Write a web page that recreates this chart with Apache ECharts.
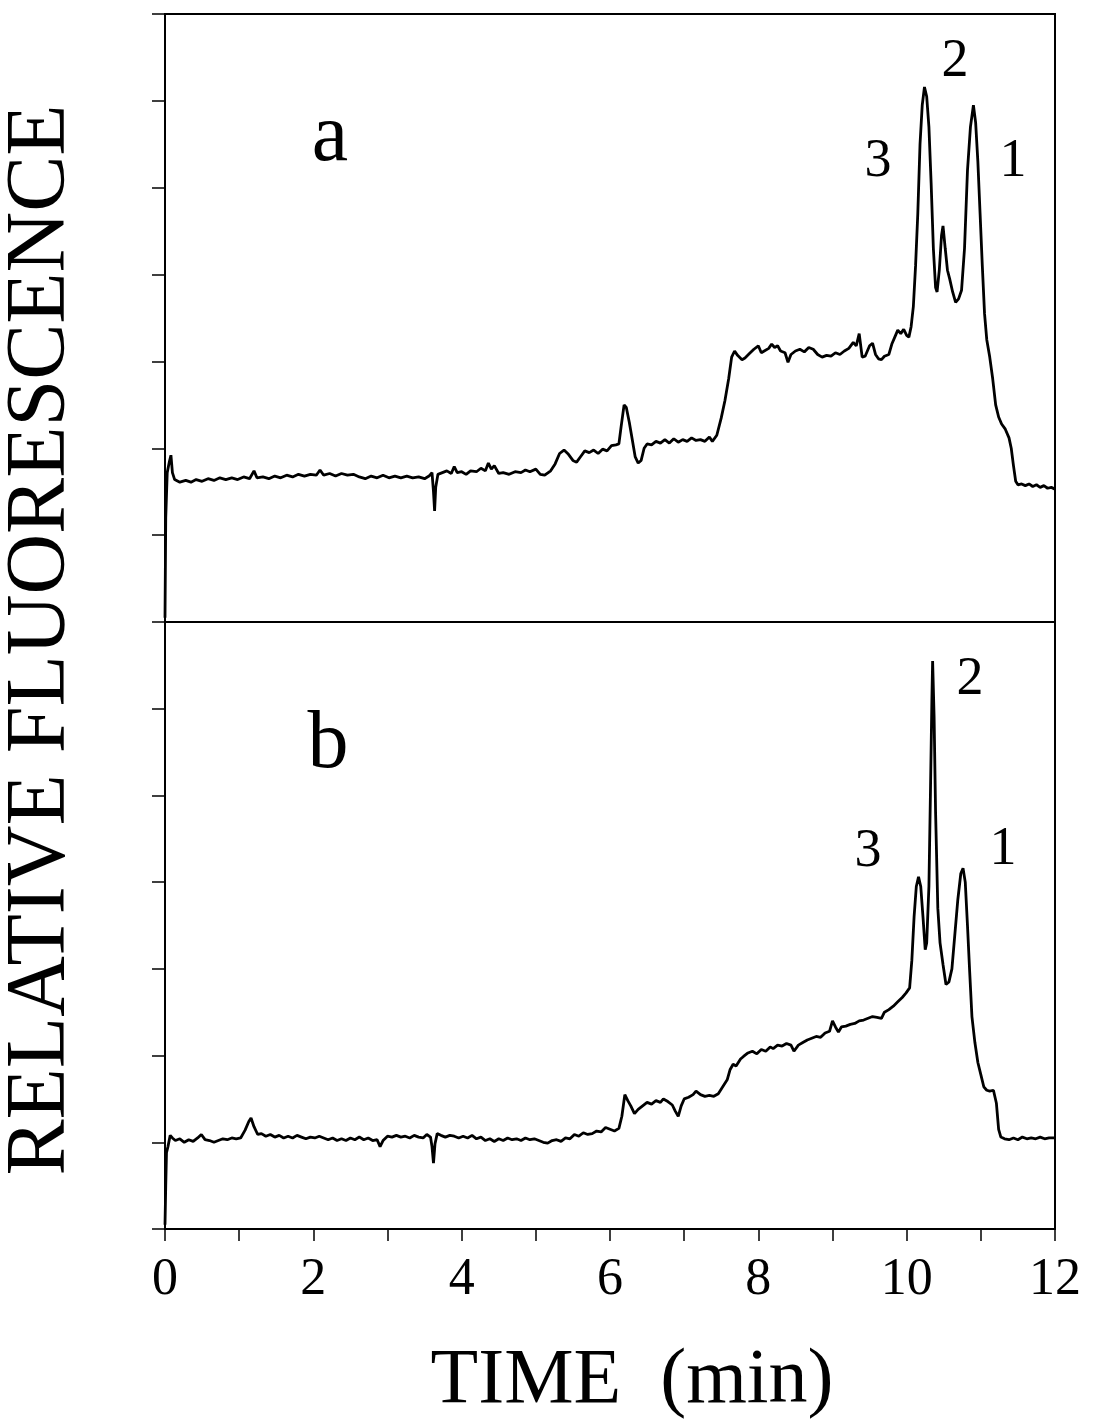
<!DOCTYPE html>
<html>
<head>
<meta charset="utf-8">
<script src="https://cdn.jsdelivr.net/npm/echarts@6/dist/echarts.min.js"></script>
<style>
html,body{margin:0;padding:0;background:#fff;}
#chart{width:1093px;height:1420px;}
</style>
</head>
<body>
<div id="chart"></div>
<script>
// ---------- DATA ----------
const xTicks = [0, 2, 4, 6, 8, 10, 12];
const xTitle = 'TIME  (min)';
const yTitle = 'RELATIVE FLUORESCENCE';
const panelLabels = ['a', 'b'];
const peakLabels = ['3', '2', '1'];

// Trace a (top panel): time (min), relative fluorescence (tick units)
const traceA_t = [0.00,0.01,0.03,0.06,0.08,0.10,0.13,0.20,0.28,0.35,0.42,0.50,0.58,0.66,0.74,0.82,0.90,0.98,1.06,1.14,1.20,1.24,1.32,1.40,1.48,1.56,1.64,1.72,1.80,1.88,1.96,2.04,2.09,2.14,2.22,2.30,2.38,2.46,2.54,2.62,2.70,2.78,2.86,2.94,3.02,3.10,3.18,3.26,3.34,3.42,3.50,3.56,3.60,3.62,3.635,3.65,3.68,3.74,3.80,3.86,3.90,3.94,4.00,4.06,4.12,4.20,4.26,4.32,4.36,4.40,4.44,4.50,4.56,4.64,4.72,4.80,4.86,4.92,5.00,5.06,5.12,5.20,5.26,5.32,5.38,5.44,5.50,5.55,5.60,5.66,5.72,5.78,5.84,5.90,5.96,6.02,6.08,6.12,6.15,6.19,6.22,6.26,6.30,6.34,6.38,6.42,6.46,6.50,6.56,6.62,6.68,6.74,6.80,6.86,6.92,6.98,7.04,7.10,7.16,7.22,7.28,7.34,7.38,7.44,7.50,7.55,7.60,7.64,7.68,7.72,7.78,7.82,7.88,7.94,8.00,8.04,8.08,8.14,8.18,8.22,8.26,8.30,8.36,8.40,8.44,8.50,8.56,8.62,8.68,8.74,8.80,8.86,8.92,8.98,9.04,9.10,9.16,9.22,9.28,9.32,9.36,9.40,9.44,9.50,9.54,9.58,9.62,9.66,9.70,9.76,9.80,9.84,9.88,9.92,9.96,10.00,10.03,10.06,10.09,10.12,10.15,10.18,10.21,10.24,10.27,10.30,10.33,10.36,10.39,10.41,10.44,10.47,10.49,10.52,10.55,10.58,10.62,10.66,10.70,10.74,10.78,10.82,10.86,10.90,10.93,10.96,10.99,11.02,11.05,11.08,11.12,11.16,11.20,11.24,11.28,11.33,11.38,11.41,11.44,11.47,11.50,11.55,11.60,11.65,11.70,11.75,11.80,11.85,11.90,11.95,12.00];
const traceA_v = [0.05,1.20,1.72,1.85,1.92,1.72,1.64,1.61,1.63,1.61,1.64,1.62,1.65,1.63,1.66,1.64,1.66,1.64,1.67,1.65,1.74,1.66,1.67,1.65,1.68,1.66,1.69,1.67,1.70,1.68,1.70,1.69,1.75,1.69,1.71,1.68,1.71,1.69,1.70,1.67,1.65,1.68,1.66,1.69,1.66,1.68,1.66,1.68,1.66,1.67,1.65,1.68,1.72,1.50,1.28,1.55,1.70,1.72,1.74,1.71,1.79,1.72,1.73,1.70,1.74,1.73,1.77,1.74,1.83,1.76,1.80,1.71,1.72,1.70,1.73,1.72,1.75,1.73,1.76,1.70,1.69,1.74,1.82,1.94,1.98,1.93,1.86,1.84,1.90,1.97,1.95,1.98,1.94,1.99,1.97,2.03,2.04,2.05,2.25,2.50,2.47,2.30,2.10,1.90,1.83,1.86,2.00,2.05,2.04,2.08,2.06,2.10,2.06,2.11,2.07,2.10,2.08,2.12,2.09,2.10,2.08,2.13,2.08,2.15,2.35,2.55,2.80,3.05,3.12,3.07,3.02,3.04,3.09,3.14,3.18,3.10,3.12,3.15,3.20,3.16,3.18,3.12,3.10,2.99,3.08,3.12,3.14,3.11,3.16,3.14,3.08,3.05,3.07,3.06,3.10,3.08,3.12,3.15,3.22,3.18,3.32,3.05,3.06,3.18,3.21,3.08,3.03,3.02,3.06,3.08,3.20,3.28,3.36,3.32,3.37,3.30,3.28,3.40,3.63,4.10,4.70,5.50,5.95,6.16,6.05,5.70,5.05,4.30,3.85,3.80,4.05,4.45,4.56,4.30,4.05,3.95,3.80,3.68,3.72,3.82,4.30,5.20,5.70,5.95,5.75,5.30,4.70,4.10,3.55,3.25,3.05,2.80,2.50,2.36,2.28,2.22,2.12,2.00,1.80,1.62,1.58,1.59,1.57,1.59,1.56,1.58,1.55,1.57,1.54,1.55,1.53];

// Trace b (bottom panel)
const traceB_t = [0.00,0.01,0.02,0.04,0.07,0.10,0.14,0.20,0.26,0.32,0.38,0.44,0.49,0.54,0.60,0.66,0.72,0.78,0.84,0.90,0.96,1.02,1.08,1.13,1.16,1.20,1.25,1.30,1.36,1.42,1.48,1.54,1.60,1.66,1.72,1.78,1.84,1.90,1.96,2.02,2.08,2.14,2.20,2.26,2.32,2.38,2.44,2.50,2.56,2.62,2.68,2.74,2.80,2.86,2.90,2.94,3.00,3.06,3.12,3.18,3.24,3.30,3.36,3.42,3.48,3.53,3.58,3.60,3.62,3.64,3.67,3.72,3.78,3.84,3.90,3.96,4.02,4.08,4.14,4.20,4.26,4.32,4.38,4.44,4.50,4.56,4.62,4.68,4.74,4.80,4.86,4.92,4.98,5.04,5.10,5.16,5.22,5.28,5.34,5.40,5.46,5.52,5.58,5.64,5.70,5.76,5.82,5.88,5.94,6.00,6.06,6.12,6.16,6.20,6.24,6.28,6.33,6.38,6.44,6.50,6.56,6.62,6.68,6.72,6.78,6.84,6.88,6.92,6.96,7.00,7.06,7.12,7.16,7.22,7.28,7.34,7.40,7.46,7.52,7.58,7.62,7.66,7.70,7.76,7.80,7.86,7.92,7.98,8.04,8.10,8.16,8.20,8.26,8.32,8.38,8.44,8.48,8.54,8.60,8.66,8.72,8.78,8.84,8.90,8.96,9.00,9.04,9.08,9.12,9.18,9.24,9.30,9.36,9.42,9.48,9.54,9.60,9.66,9.70,9.76,9.82,9.88,9.94,9.99,10.04,10.07,10.10,10.13,10.16,10.19,10.22,10.25,10.27,10.30,10.32,10.34,10.35,10.37,10.39,10.42,10.45,10.49,10.53,10.57,10.61,10.65,10.69,10.73,10.76,10.79,10.82,10.85,10.88,10.92,10.96,11.00,11.04,11.08,11.12,11.17,11.21,11.24,11.27,11.32,11.38,11.44,11.50,11.56,11.62,11.68,11.74,11.80,11.86,11.92,12.00];
const traceB_v = [0.05,0.50,0.88,0.95,1.08,1.05,1.02,1.04,1.00,1.03,1.01,1.05,1.09,1.03,1.02,1.00,1.02,1.04,1.03,1.05,1.04,1.05,1.14,1.24,1.28,1.18,1.09,1.10,1.07,1.09,1.06,1.08,1.05,1.07,1.05,1.08,1.06,1.04,1.06,1.05,1.07,1.05,1.03,1.05,1.02,1.04,1.02,1.05,1.03,1.06,1.03,1.05,1.02,1.03,0.95,1.02,1.07,1.06,1.08,1.06,1.07,1.05,1.08,1.06,1.05,1.09,1.06,0.95,0.76,0.98,1.10,1.08,1.06,1.08,1.07,1.05,1.07,1.05,1.08,1.04,1.06,1.02,1.04,1.01,1.04,1.02,1.05,1.03,1.04,1.02,1.05,1.03,1.04,1.02,1.00,0.99,1.02,1.03,1.01,1.05,1.04,1.09,1.07,1.11,1.09,1.10,1.13,1.12,1.17,1.15,1.13,1.16,1.30,1.55,1.48,1.42,1.33,1.38,1.42,1.46,1.44,1.48,1.46,1.50,1.47,1.43,1.36,1.30,1.42,1.50,1.52,1.55,1.59,1.55,1.53,1.54,1.53,1.56,1.64,1.72,1.84,1.90,1.88,1.96,1.99,2.03,2.05,2.02,2.07,2.05,2.10,2.08,2.12,2.11,2.14,2.12,2.05,2.12,2.15,2.18,2.20,2.22,2.21,2.26,2.28,2.40,2.33,2.27,2.33,2.34,2.36,2.37,2.40,2.41,2.43,2.45,2.44,2.43,2.50,2.53,2.57,2.62,2.67,2.72,2.78,3.10,3.60,3.95,4.06,3.95,3.60,3.22,3.30,3.95,5.00,6.10,6.55,5.90,4.80,3.70,3.30,3.05,2.82,2.85,3.00,3.40,3.80,4.10,4.16,4.00,3.50,2.96,2.45,2.15,1.92,1.78,1.64,1.60,1.59,1.60,1.45,1.15,1.06,1.04,1.03,1.05,1.03,1.06,1.04,1.05,1.04,1.06,1.04,1.05,1.05];

// ---------- CHART ----------
const zip = (t, v) => t.map((x, i) => [x, v[i]]);
const FONT = "'Liberation Serif','Times New Roman',serif";
const chart = echarts.init(document.getElementById('chart'), null, {renderer: 'canvas'});

const gridCommon = {left: 165, right: 38, show: true, borderColor: '#000', borderWidth: 2, backgroundColor: 'transparent'};
const yCommon = {
  type: 'value', min: 0, max: 7, interval: 1,
  axisLine: {show: true, lineStyle: {color: '#000', width: 2}},
  axisTick: {show: true, inside: false, length: 13, lineStyle: {color: '#000', width: 1.5}},
  axisLabel: {show: false}, splitLine: {show: false}
};

chart.setOption({
  animation: false,
  backgroundColor: '#fff',
  grid: [
    Object.assign({top: 14, height: 608}, gridCommon),
    Object.assign({top: 622, height: 607}, gridCommon)
  ],
  xAxis: [
    {gridIndex: 0, type: 'value', min: 0, max: 12, interval: 1,
     axisLine: {show: true, lineStyle: {color: '#000', width: 2}},
     axisTick: {show: false}, axisLabel: {show: false}, splitLine: {show: false}},
    {gridIndex: 1, type: 'value', min: 0, max: 12, interval: 1,
     axisLine: {show: true, lineStyle: {color: '#000', width: 2}},
     axisTick: {show: true, inside: false, length: 12, lineStyle: {color: '#000', width: 1.5}},
     axisLabel: {show: true, margin: 25, color: '#000', fontFamily: FONT, fontSize: 52,
       formatter: v => (xTicks.indexOf(v) >= 0 ? String(v) : '')},
     splitLine: {show: false}}
  ],
  yAxis: [
    Object.assign({gridIndex: 0}, yCommon),
    Object.assign({gridIndex: 1}, yCommon)
  ],
  series: [
    {type: 'line', xAxisIndex: 0, yAxisIndex: 0, data: zip(traceA_t, traceA_v),
     showSymbol: false, symbol: 'none', lineStyle: {color: '#000', width: 2.8}, silent: true},
    {type: 'line', xAxisIndex: 1, yAxisIndex: 1, data: zip(traceB_t, traceB_v),
     showSymbol: false, symbol: 'none', lineStyle: {color: '#000', width: 2.8}, silent: true}
  ],
  graphic: [
    {type: 'text', x: 42, y: 640, rotation: Math.PI / 2,
     style: {text: yTitle, font: "84px " + FONT, fill: '#000', align: 'center', verticalAlign: 'middle'}},
    {type: 'text', x: 632, y: 1382,
     style: {text: xTitle, font: "78px " + FONT, fill: '#000', align: 'center', verticalAlign: 'middle'}},
    {type: 'text', x: 330, y: 138,
     style: {text: panelLabels[0], font: "82px " + FONT, fill: '#000', align: 'center', verticalAlign: 'middle'}},
    {type: 'text', x: 328, y: 745,
     style: {text: panelLabels[1], font: "82px " + FONT, fill: '#000', align: 'center', verticalAlign: 'middle'}},
    {type: 'text', x: 878, y: 162,
     style: {text: peakLabels[0], font: "54px " + FONT, fill: '#000', align: 'center', verticalAlign: 'middle'}},
    {type: 'text', x: 955, y: 62,
     style: {text: peakLabels[1], font: "54px " + FONT, fill: '#000', align: 'center', verticalAlign: 'middle'}},
    {type: 'text', x: 1013, y: 162,
     style: {text: peakLabels[2], font: "54px " + FONT, fill: '#000', align: 'center', verticalAlign: 'middle'}},
    {type: 'text', x: 868, y: 852,
     style: {text: peakLabels[0], font: "54px " + FONT, fill: '#000', align: 'center', verticalAlign: 'middle'}},
    {type: 'text', x: 970, y: 680,
     style: {text: peakLabels[1], font: "54px " + FONT, fill: '#000', align: 'center', verticalAlign: 'middle'}},
    {type: 'text', x: 1003, y: 850,
     style: {text: peakLabels[2], font: "54px " + FONT, fill: '#000', align: 'center', verticalAlign: 'middle'}}
  ]
});
</script>
</body>
</html>
